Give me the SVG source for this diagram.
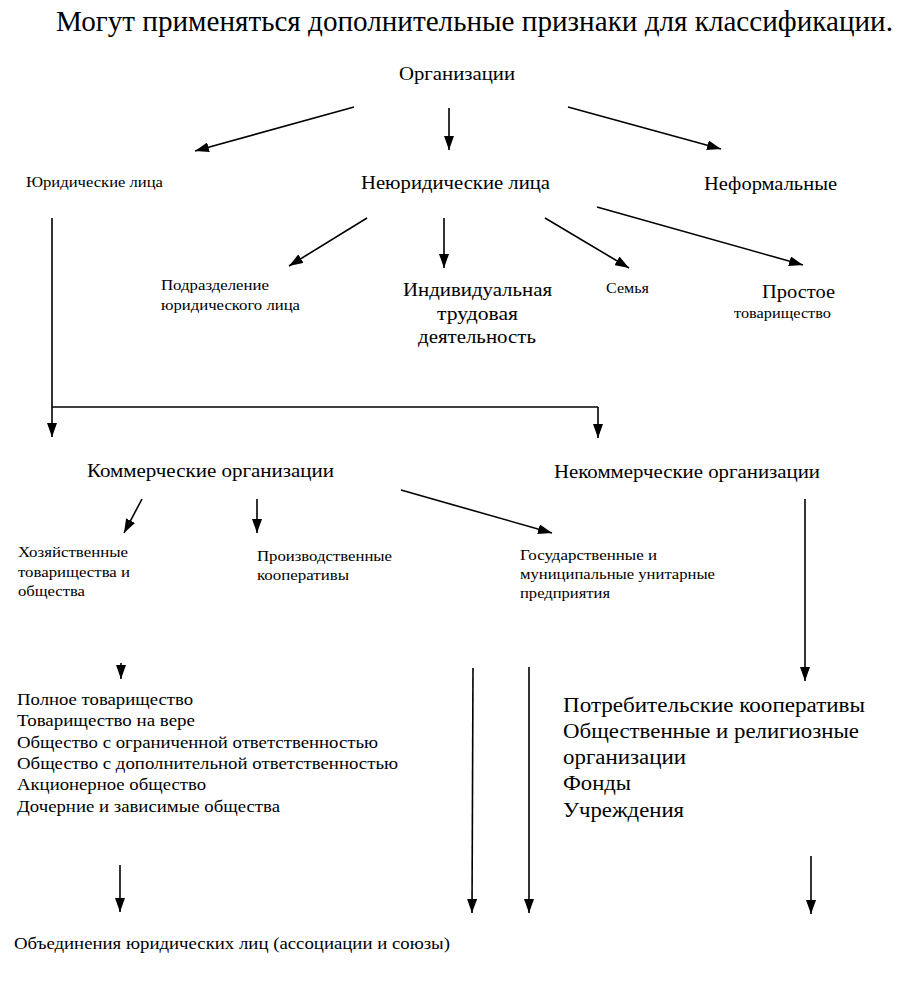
<svg xmlns="http://www.w3.org/2000/svg" width="903" height="982" viewBox="0 0 903 982" font-family="'Liberation Serif', 'DejaVu Serif', 'Times New Roman', serif">
<style>
text{font-family:'Liberation Serif','DejaVu Serif','Times New Roman',serif;fill:#000}
.s14{font-size:14px}.s16{font-size:16px}.s18{font-size:18px}.s19{font-size:19px}.s20{font-size:20px}
.c line{stroke:#000;stroke-width:1.6;fill:none}
.c .a{marker-end:url(#ah)}
</style>
<defs>
<marker id="ah" viewBox="0 0 14 10" refX="14" refY="5" markerWidth="14" markerHeight="10" markerUnits="userSpaceOnUse" orient="auto">
<path d="M0,0 L14,5 L0,10 z" fill="#000"/>
</marker>
</defs>
<rect width="903" height="982" fill="#fff"/>
<g id="title"><text x="56" y="31" style="font-size:29px" textLength="837" lengthAdjust="spacingAndGlyphs">Могут применяться дополнительные признаки для классификации.</text></g>

<g class="c" id="connectors">
<line class="a" x1="354" y1="107" x2="195" y2="151"/>
<line class="a" x1="449" y1="108" x2="449" y2="150"/>
<line class="a" x1="568" y1="107" x2="721" y2="149"/>
<line x1="52" y1="218" x2="52" y2="407"/>
<line class="a" x1="52" y1="407" x2="52" y2="437"/>
<line x1="52" y1="407" x2="598" y2="407"/>
<line class="a" x1="598" y1="407" x2="598" y2="438"/>
<line class="a" x1="367" y1="218" x2="289" y2="266"/>
<line class="a" x1="444" y1="218" x2="444" y2="268"/>
<line class="a" x1="545" y1="218" x2="629" y2="268"/>
<line class="a" x1="597" y1="207" x2="803" y2="265"/>
<line class="a" x1="142" y1="499" x2="124" y2="533"/>
<line class="a" x1="257" y1="499" x2="257" y2="533"/>
<line class="a" x1="401" y1="490" x2="552" y2="533"/>
<line class="a" x1="805" y1="499" x2="805" y2="681"/>
<line class="a" x1="121" y1="663" x2="121" y2="679"/>
<line class="a" x1="473" y1="668" x2="472" y2="913"/>
<line class="a" x1="529" y1="667" x2="529" y2="913"/>
<line class="a" x1="120" y1="865" x2="120" y2="912"/>
<line class="a" x1="811" y1="856" x2="811" y2="914"/>
</g>

<g id="n-org"><text class="s18" x="399" y="80" textLength="116" lengthAdjust="spacingAndGlyphs">Организации</text></g>
<g id="n-jur"><text class="s14" x="26" y="187" textLength="137" lengthAdjust="spacingAndGlyphs">Юридические лица</text></g>
<g id="n-nejur"><text class="s19" x="361" y="189" textLength="189" lengthAdjust="spacingAndGlyphs">Неюридические лица</text></g>
<g id="n-neform"><text class="s19" x="704" y="190" textLength="133" lengthAdjust="spacingAndGlyphs">Неформальные</text></g>
<g id="n-podr">
<text class="s14" x="161" y="290" textLength="108" lengthAdjust="spacingAndGlyphs">Подразделение</text>
<text class="s14" x="161" y="310" textLength="139" lengthAdjust="spacingAndGlyphs">юридического лица</text>
</g>
<g id="n-itd">
<text class="s19" x="403" y="296" textLength="149" lengthAdjust="spacingAndGlyphs">Индивидуальная</text>
<text class="s19" x="437" y="320" textLength="81" lengthAdjust="spacingAndGlyphs">трудовая</text>
<text class="s19" x="418" y="343" textLength="118" lengthAdjust="spacingAndGlyphs">деятельность</text>
</g>
<g id="n-semya"><text class="s14" x="606" y="293" textLength="43" lengthAdjust="spacingAndGlyphs">Семья</text></g>
<g id="n-prost">
<text class="s19" x="762" y="298" textLength="73" lengthAdjust="spacingAndGlyphs">Простое</text>
<text class="s14" x="734" y="318" textLength="97" lengthAdjust="spacingAndGlyphs">товарищество</text>
</g>
<g id="n-komm"><text class="s19" x="87" y="477" textLength="247" lengthAdjust="spacingAndGlyphs">Коммерческие организации</text></g>
<g id="n-nekomm"><text class="s19" x="554" y="478" textLength="266" lengthAdjust="spacingAndGlyphs">Некоммерческие организации</text></g>
<g id="n-hoz">
<text class="s14" x="18" y="557" textLength="110" lengthAdjust="spacingAndGlyphs">Хозяйственные</text>
<text class="s14" x="18" y="577" textLength="112" lengthAdjust="spacingAndGlyphs">товарищества и</text>
<text class="s14" x="18" y="596" textLength="67" lengthAdjust="spacingAndGlyphs">общества</text>
</g>
<g id="n-proizv">
<text class="s14" x="257" y="561" textLength="135" lengthAdjust="spacingAndGlyphs">Производственные</text>
<text class="s14" x="257" y="580" textLength="92" lengthAdjust="spacingAndGlyphs">кооперативы</text>
</g>
<g id="n-gos">
<text class="s14" x="520" y="560" textLength="137" lengthAdjust="spacingAndGlyphs">Государственные и</text>
<text class="s14" x="520" y="579" textLength="195" lengthAdjust="spacingAndGlyphs">муниципальные унитарные</text>
<text class="s14" x="520" y="598" textLength="90" lengthAdjust="spacingAndGlyphs">предприятия</text>
</g>
<g id="n-list">
<text class="s16" x="17" y="705" textLength="176" lengthAdjust="spacingAndGlyphs">Полное товарищество</text>
<text class="s16" x="17" y="726" textLength="178" lengthAdjust="spacingAndGlyphs">Товарищество на вере</text>
<text class="s16" x="17" y="748" textLength="361" lengthAdjust="spacingAndGlyphs">Общество с ограниченной ответственностью</text>
<text class="s16" x="17" y="769" textLength="381" lengthAdjust="spacingAndGlyphs">Общество с дополнительной ответственностью</text>
<text class="s16" x="17" y="790" textLength="189" lengthAdjust="spacingAndGlyphs">Акционерное общество</text>
<text class="s16" x="17" y="812" textLength="263" lengthAdjust="spacingAndGlyphs">Дочерние и зависимые общества</text>
</g>
<g id="n-nklist">
<text class="s20" x="563" y="712" textLength="302" lengthAdjust="spacingAndGlyphs">Потребительские кооперативы</text>
<text class="s20" x="563" y="738" textLength="296" lengthAdjust="spacingAndGlyphs">Общественные и религиозные</text>
<text class="s20" x="563" y="764" textLength="123" lengthAdjust="spacingAndGlyphs">организации</text>
<text class="s20" x="563" y="790" textLength="68" lengthAdjust="spacingAndGlyphs">Фонды</text>
<text class="s20" x="563" y="817" textLength="121" lengthAdjust="spacingAndGlyphs">Учреждения</text>
</g>
<g id="n-obed"><text class="s16" x="14" y="949" textLength="436" lengthAdjust="spacingAndGlyphs">Объединения юридических лиц (ассоциации и союзы)</text></g>
</svg>
